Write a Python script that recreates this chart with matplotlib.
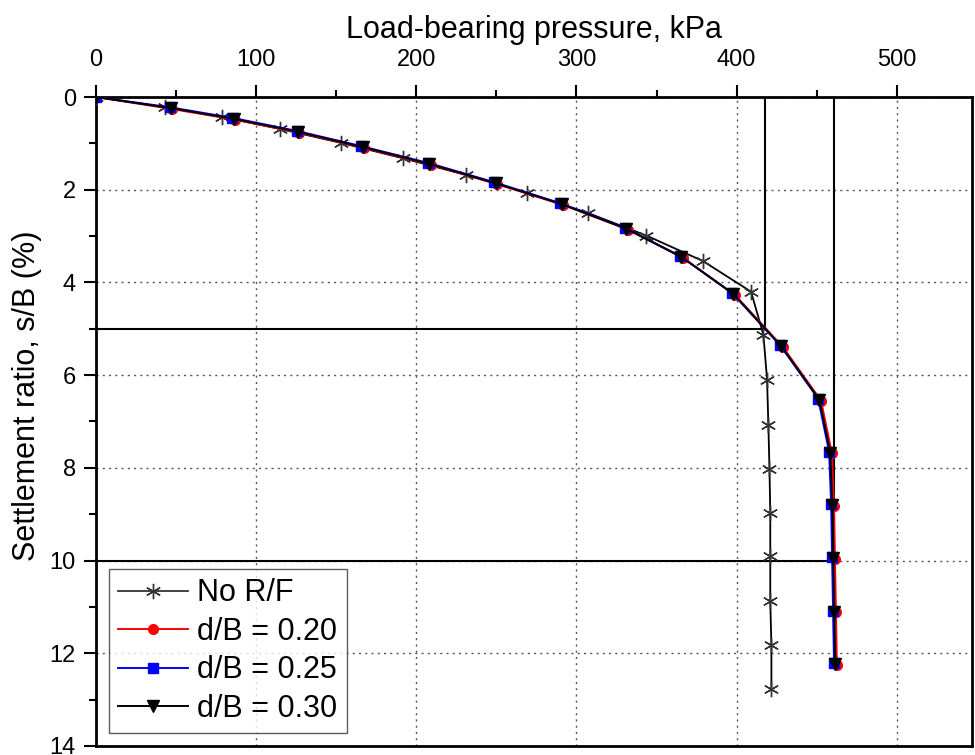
import numpy as np
import matplotlib.pyplot as plt
from matplotlib.ticker import MultipleLocator

plt.rcParams['font.family'] = ['Liberation Sans', 'DejaVu Sans']

# Daten
p_norf = [0, 43, 78.6, 115, 153, 191.5, 230.8, 268.9, 307, 343.7, 379, 409,
          416.7, 419, 419.8, 420.5, 421, 421, 421, 421.7, 421.7]
s_norf = [0, 0.22, 0.43, 0.69, 0.99, 1.32, 1.68, 2.07, 2.5, 2.99, 3.54, 4.2,
          5.13, 6.1, 7.07, 8.02, 8.97, 9.91, 10.88, 11.83, 12.78]

p_020 = [0, 47.6, 87, 127, 167.5, 209, 250.6, 291.7, 332, 366.5, 399, 429,
         452.7, 459.5, 460.8, 461.4, 462, 462.6]
s_020 = [0, 0.26, 0.49, 0.77, 1.1, 1.46, 1.88, 2.33, 2.86, 3.47, 4.27, 5.4,
         6.55, 7.69, 8.82, 9.96, 11.12, 12.26]

p_025 = [0, 46.0, 85.2, 125.2, 165.7, 207.2, 248.8, 289.9, 330.2, 364.7, 397.2, 427.2,
         450.9, 457.7, 459.0, 459.6, 460.2, 460.8]
s_025 = [0, 0.22, 0.45, 0.73, 1.06, 1.42, 1.84, 2.29, 2.82, 3.43, 4.23, 5.36,
         6.51, 7.65, 8.78, 9.92, 11.08, 12.22]

p_030 = [0, 46.8, 86, 126, 166.5, 208, 249.6, 290.7, 331, 365.5, 398, 428,
         451.7, 458.5, 459.8, 460.4, 461, 461.6]
s_030 = [0, 0.24, 0.47, 0.75, 1.08, 1.44, 1.86, 2.31, 2.84, 3.45, 4.25, 5.38,
         6.53, 7.67, 8.8, 9.94, 11.1, 12.24]

# Tragfähigkeit bei s/B = 5 % und 10 %
s_ref = [5, 10]
q_ref = [418, 461]

fig = plt.figure(figsize=(9.75, 7.55), dpi=100)
ax = fig.add_axes([0.0985, 0.012, 0.8985, 0.8595])

for q, s in zip(q_ref, s_ref):
    ax.plot([0, q], [s, s], 'k-', lw=1.5, zorder=2)
    ax.plot([q, q], [0, s], 'k-', lw=1.5, zorder=2)

ax.plot(p_norf, s_norf, '-', color='black', lw=1.3, zorder=3)
ax.plot(p_norf, s_norf, ls='none', color='#333333', marker=(6, 2, 0), ms=11,
        mew=1.0, zorder=3)
l1, = ax.plot([], [], '-', color='#333333', lw=1.3, marker=(6, 2, 0), ms=11,
              mew=1.0)
l2, = ax.plot(p_020, s_020, 'o-', color='red', lw=1.4, ms=7, zorder=4)
l3, = ax.plot(p_025, s_025, 's-', color='blue', lw=1.4, ms=7, zorder=5)
l4, = ax.plot(p_030, s_030, 'v-', color='black', lw=1.4, ms=8, zorder=6)

ax.set_xlim(0, 547)
ax.set_ylim(14, 0)
ax.xaxis.tick_top()
ax.xaxis.set_label_position('top')
ax.xaxis.set_major_locator(MultipleLocator(100))
ax.xaxis.set_minor_locator(MultipleLocator(50))
ax.yaxis.set_major_locator(MultipleLocator(2))
ax.yaxis.set_minor_locator(MultipleLocator(1))
ax.tick_params(which='both', direction='out', width=1.5, labelsize=17)
ax.tick_params(which='major', length=8.5)
ax.tick_params(which='minor', length=5)
ax.tick_params(axis='x', pad=10)
ax.tick_params(axis='y', pad=6)
for sp in ax.spines.values():
    sp.set_linewidth(2)

ax.grid(True, which='major', ls=(0, (1.5, 3)), color='#555555', lw=1)
ax.set_axisbelow(True)

ax.set_xlabel('Load-bearing pressure, kPa', fontsize=22, labelpad=8)
ax.set_ylabel('Settlement ratio, s/B (%)', fontsize=22)
ax.yaxis.set_label_coords(-0.062, 0.54)

labels = ['No R/F', 'd/B = 0.20', 'd/B = 0.25', 'd/B = 0.30']
leg = ax.legend([l1, l2, l3, l4], labels, loc='lower left', fontsize=22,
                frameon=True, fancybox=False, edgecolor='#333333',
                handlelength=2.3, borderaxespad=0.42, labelspacing=0.28,
                handletextpad=0.3, borderpad=0.3)
leg.get_frame().set_linewidth(1)

plt.savefig('out.png', dpi=100)
